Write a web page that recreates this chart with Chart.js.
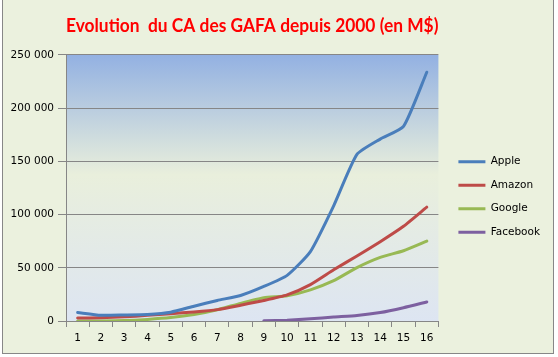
<!DOCTYPE html>
<html><head><meta charset="utf-8">
<script src="https://cdn.jsdelivr.net/npm/chart.js@4/dist/chart.umd.min.js"></script>
<style>
html,body{margin:0;padding:0;background:#fff;width:558px;height:357px;overflow:hidden;}
#frame{position:absolute;left:2px;top:-2px;width:550px;height:354px;border:1px solid #878787;background:#EBF1DE;}
#wrap{position:absolute;left:0;top:0;width:558px;height:357px;}
</style></head><body>
<div id="frame"></div>
<div id="wrap"><canvas id="c" width="558" height="357"></canvas></div>
<script>
const titleText = "Evolution  du CA des GAFA depuis 2000 (en M$)";
const categories = ["1","2","3","4","5","6","7","8","9","10","11","12","13","14","15","16"];
const seriesNames = ["Apple","Amazon","Google","Facebook"];
const seriesColors = ["#4A7EBB","#BE4B48","#98B954","#7D60A0"];
const apple = [8000, 5400, 5700, 6200, 8300, 13900, 19300, 24000, 32500, 42900, 65200, 108200, 156500, 170900, 182800, 233700];
const amazon = [2800, 3100, 3900, 5300, 6900, 8500, 10700, 14800, 19200, 24500, 34200, 48100, 61100, 74500, 89000, 107000];
const google = [100, 100, 400, 1500, 3200, 6100, 10600, 16600, 21800, 23700, 29300, 37900, 50200, 59800, 66000, 75000];
const facebook = [null, null, null, null, null, null, null, null, 300, 800, 2000, 3700, 5100, 7900, 12500, 17900];
const yTicks = [0, 50000, 100000, 150000, 200000, 250000];

const seriesValues = [apple, amazon, google, facebook];
const fmt = v => String(v).replace(/\B(?=(\d{3})+(?!\d))/g, ' ');
const tickFont = {family: "'DejaVu Sans'", size: 10.5};

const bgPlugin = {
  id: 'plotBg',
  beforeDraw(chart) {
    const a = chart.chartArea, ctx = chart.ctx;
    const g = ctx.createLinearGradient(0, a.top, 0, a.bottom);
    g.addColorStop(0, '#93B1E2');
    g.addColorStop(0.45, '#E9EFDC');
    g.addColorStop(1, '#DDE5F2');
    ctx.save();
    ctx.fillStyle = g;
    ctx.fillRect(a.left, a.top, a.right - a.left, a.bottom - a.top);
    ctx.restore();
  }
};

new Chart(document.getElementById('c'), {
  type: 'line',
  data: {
    labels: categories,
    datasets: seriesNames.map((n, i) => ({
      label: n,
      data: seriesValues[i],
      borderColor: seriesColors[i],
      backgroundColor: seriesColors[i],
      borderWidth: 3,
      pointRadius: 0,
      tension: 0.18,
      fill: false,
      spanGaps: false,
      borderCapStyle: 'round'
    }))
  },
  options: {
    responsive: false,
    animation: false,
    devicePixelRatio: 1,
    layout: {padding: {left: 0, right: 8, top: 0, bottom: 0}},
    plugins: {
      tooltip: {enabled: false},
      title: {
        display: true,
        fullSize: false,
        align: 'center',
        text: titleText,
        color: '#FF0000',
        font: {family: "Lato", size: 19.5, weight: 'bold'},
        padding: {top: 14.5, bottom: 17}
      },
      legend: {
        position: 'right',
        align: 'center',
        maxWidth: 160,
        title: {display: true, text: '', padding: 11.3, font: {size: 12}},
        labels: {
          color: '#000',
          font: tickFont,
          boxWidth: 27,
          boxHeight: 3,
          padding: 13,
          generateLabels(chart) {
            return chart.data.datasets.map((d, i) => ({
              text: d.label, fillStyle: d.borderColor, strokeStyle: d.borderColor,
              lineWidth: 0, hidden: false, datasetIndex: i, fontColor: '#000'
            }));
          }
        }
      }
    },
    scales: {
      x: {
        offset: true,
        grid: {display: true, drawOnChartArea: false, drawTicks: true, tickLength: 6, color: '#868686', offset: true},
        border: {display: true, color: '#868686', width: 1},
        ticks: {color: '#000', font: tickFont, padding: 5, maxRotation: 0, autoSkip: false},
        afterFit(s) { s.height = 36; }
      },
      y: {
        min: 0, max: 250000,
        afterBuildTicks(s) { s.ticks = yTicks.map(v => ({value: v})); },
        grid: {color: '#868686', tickLength: 8, drawTicks: true},
        border: {display: true, color: '#868686', width: 1},
        ticks: {color: '#000', font: tickFont, padding: 4, callback: v => fmt(v)},
        afterFit(s) { s.width = 66; }
      },
      gap: {
        type: 'linear', position: 'right', display: true,
        grid: {display: false}, border: {display: false}, ticks: {display: false},
        afterFit(s) { s.width = 7; }
      }
    }
  },
  plugins: [bgPlugin]
});
</script>
</body></html>
